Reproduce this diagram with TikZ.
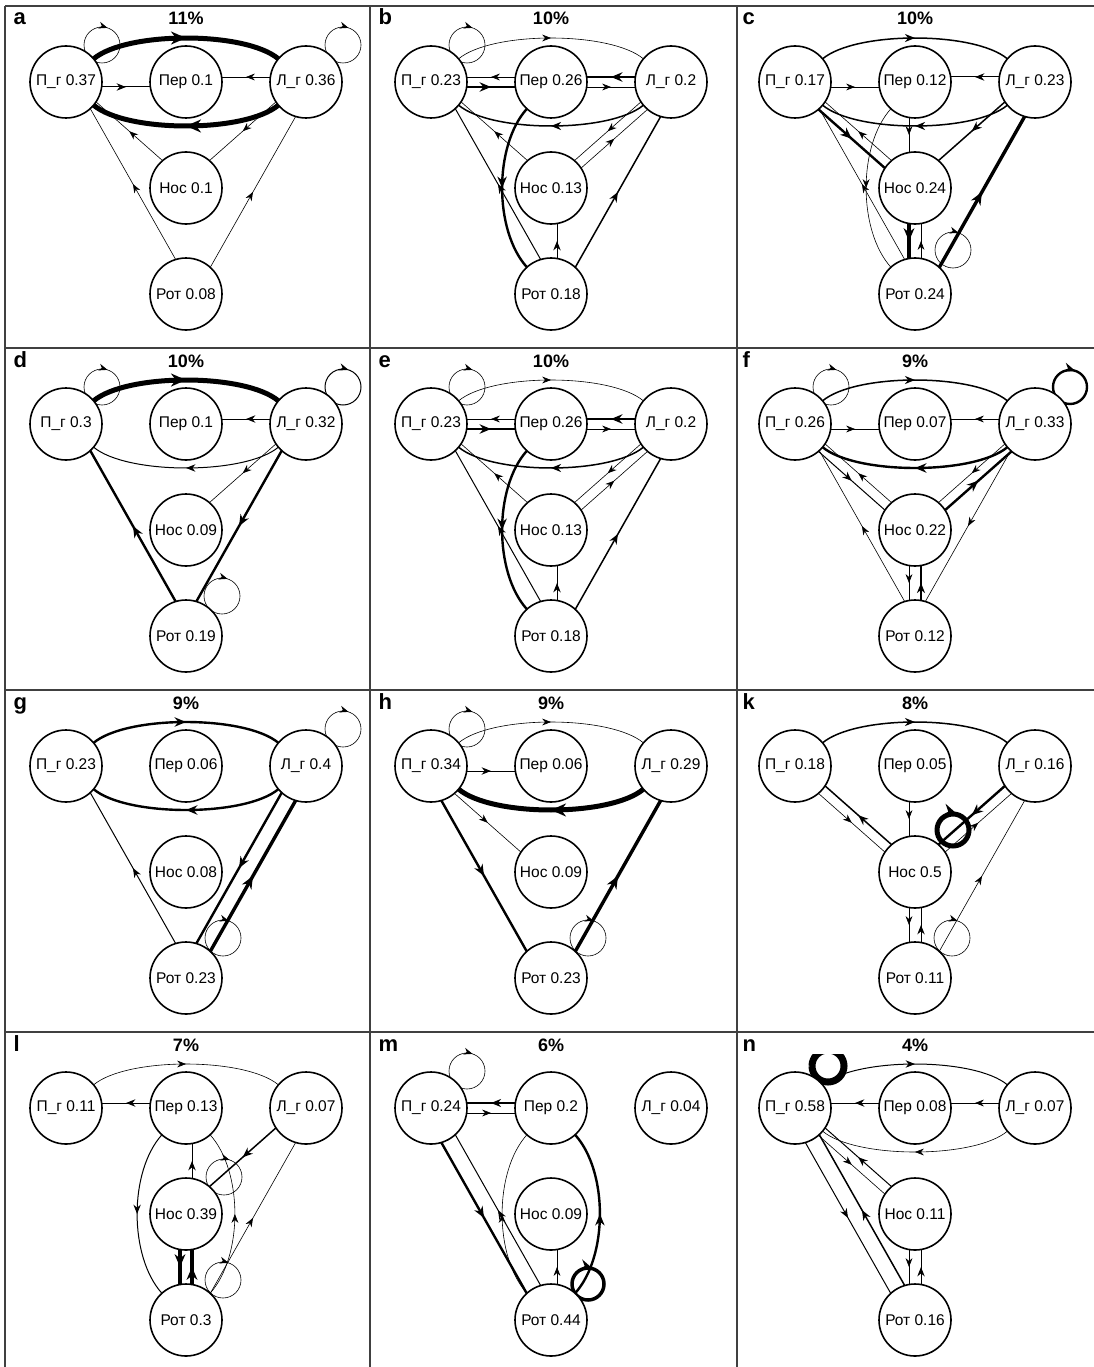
\documentclass[tikz,border=0pt]{standalone}
\usepackage{fontspec}
\setmainfont{Liberation Sans}
\usetikzlibrary{positioning,arrows.meta,calc,decorations.markings,backgrounds}

\tikzset{
  st/.style={circle, draw, line width=1.6pt, fill=white, minimum size=72pt,
             inner sep=0pt, outer sep=0pt, font=\fontsize{15.5}{18}\selectfont},
  pct/.style={font=\bfseries\fontsize{18}{21}\selectfont, anchor=base},
  tag/.style={font=\bfseries\fontsize{22}{25}\selectfont, anchor=base west},
  frameln/.style={draw=black!75, line width=1.2pt},
  midarr/.style={postaction={decorate}, decoration={markings,
      mark=at position 0.5 with {\arrow{Stealth[length=8pt 1.4, width=6pt 1.4]}}}},
  loopst/.style={line width=0.6pt, postaction={decorate}, decoration={markings,
      mark=at position 0.3 with {\arrow{Stealth[length=8pt 1.4, width=6pt 1.4]}}}},
  t0/.style={line width=0.6pt},
  t1/.style={line width=1pt},
  t2/.style={line width=1.5pt},
  t3/.style={line width=2.4pt},
  t4/.style={line width=3.4pt},
  t5/.style={line width=5pt},
  bow/.style={bend left=40, looseness=0.6},
  sweepR/.style={bend right=42, looseness=0.8},
  sweepL/.style={bend left=42, looseness=0.8},
}

% one panel: name, top-left corner, letter, share, then П_г Пер Л_г Нос Рот
\newcommand\panel[9]{%
  \node[st] (#1R) at ($#2+(181,-81)$) {Пер #6};
  \node[st, left=48pt of #1R] (#1P) {П\_г #5};
  \node[st, right=48pt of #1R] (#1L) {Л\_г #7};
  \node[st, below=34pt of #1R] (#1N) {Нос #8};
  \node[st, below=34pt of #1N] (#1M) {Рот #9};
  \node[pct] (#1T) at ($#2+(181,-24)$) {#4\%};
  \node[tag] (#1X) at ($#2+(5,-24)$) {#3};
}
% directed edge, shifted to the right of its direction
\newcommand\lane[4][]{\draw[midarr,#1] ($(#2)!#4!-90:(#3)$) -- ($(#3)!#4!90:(#2)$);}
% self transition: node, centre offset, radius
\newcommand\selfloop[4][]{\draw[loopst,#1] ($(#2)+(#3)$) ++(-#4,0)
  arc[start angle=180, end angle=-180, radius=#4];}

\begin{document}
\begin{tikzpicture}[x=1pt, y=1pt]
  \useasboundingbox (0,0) rectangle (1094,-1367);

  % --- table lines ---
  \foreach \yy in {-6,-348,-690,-1032}
    \draw[frameln] (5,\yy) -- (1094,\yy);
  \foreach \xx in {5,370,737}
    \draw[frameln] (\xx,-6) -- (\xx,-1367);

  % --- a ---
  \panel{a}{(5,-1)}{a}{11}{0.37}{0.1}{0.36}{0.1}{0.08}
  \begin{scope}[on background layer]
    \draw[t5,bow,midarr] (aP) to (aL);
    \draw[t5,bow,midarr] (aL) to (aP);
    \lane[t1]{aP}{aR}{5pt}
    \lane[t0]{aL}{aR}{5pt}
    \lane[t0]{aN}{aP}{5pt}
    \lane[t0]{aM}{aP}{8pt}
    \lane[t0]{aL}{aN}{5pt}
    \lane[t0]{aM}{aL}{8pt}
    \selfloop{aP}{36,37}{18}
    \selfloop{aL}{37,37}{18}
  \end{scope}

  % --- b and e (same chain) ---
  \panel{b}{(370,-1)}{b}{10}{0.23}{0.26}{0.2}{0.13}{0.18}
  \panel{e}{(370,-343)}{e}{10}{0.23}{0.26}{0.2}{0.13}{0.18}
  \begin{scope}[on background layer]
    \foreach \p in {b,e} {
      \selfloop{\p P}{36,37}{18}
      \draw[t0,bow,midarr] (\p P) to (\p L);
      \lane[t0]{\p R}{\p P}{5pt}
      \lane[t3]{\p P}{\p R}{5pt}
      \lane[t3]{\p L}{\p R}{5pt}
      \lane[t0]{\p R}{\p L}{5pt}
      \draw[t2,bow,midarr] (\p L) to (\p P);
      \draw[t3,sweepR,midarr] (\p R) to (\p M);
      \lane[t1]{\p M}{\p P}{8pt}
      \lane[t0]{\p N}{\p P}{5pt}
      \lane[t0]{\p L}{\p N}{5pt}
      \lane[t0]{\p N}{\p L}{5pt}
      \lane[t1]{\p M}{\p N}{6pt}
      \lane[t2]{\p M}{\p L}{8pt}
    }
  \end{scope}

  % --- c ---
  \panel{c}{(734,-1)}{c}{10}{0.17}{0.12}{0.23}{0.24}{0.24}
  \begin{scope}[on background layer]
    \draw[t2,bow,midarr] (cP) to (cL);
    \lane[t0]{cP}{cR}{5pt}
    \lane[t1]{cL}{cR}{5pt}
    \draw[t2,bow,midarr] (cL) to (cP);
    \lane[t0]{cR}{cN}{6pt}
    \lane[t2]{cL}{cN}{5pt}
    \lane[t3]{cP}{cN}{5pt}
    \lane[t0]{cN}{cP}{5pt}
    \lane[t0]{cM}{cP}{8pt}
    \draw[t0,sweepR,midarr] (cR) to (cM);
    \lane[t4]{cN}{cM}{6pt}
    \lane[t0]{cM}{cN}{6pt}
    \lane[t4]{cM}{cL}{8pt}
    \selfloop{cM}{38,44}{18}
  \end{scope}

  % --- d ---
  \panel{d}{(5,-343)}{d}{10}{0.3}{0.1}{0.32}{0.09}{0.19}
  \begin{scope}[on background layer]
    \selfloop{dP}{36,37}{18}
    \selfloop[t1]{dL}{37,37}{18}
    \draw[t5,bow,midarr] (dP) to (dL);
    \lane[t1]{dL}{dR}{5pt}
    \draw[t1,bow,midarr] (dL) to (dP);
    \lane[t0]{dL}{dN}{5pt}
    \lane[t3]{dM}{dP}{8pt}
    \lane[t3]{dL}{dM}{8pt}
    \selfloop{dM}{36,40}{18}
  \end{scope}

  % --- f ---
  \panel{f}{(734,-343)}{f}{9}{0.26}{0.07}{0.33}{0.22}{0.12}
  \begin{scope}[on background layer]
    \selfloop{fP}{36,37}{18}
    \selfloop[t3]{fL}{35,37}{17}
    \draw[t2,bow,midarr] (fP) to (fL);
    \lane[t0]{fP}{fR}{5pt}
    \lane[t0]{fL}{fR}{5pt}
    \draw[t3,bow,midarr] (fL) to (fP);
    \lane[t1]{fP}{fN}{5pt}
    \lane[t0]{fN}{fP}{5pt}
    \lane[t0]{fL}{fN}{5pt}
    \lane[t3]{fN}{fL}{5pt}
    \lane[t0]{fL}{fM}{8pt}
    \lane[t0]{fM}{fP}{8pt}
    \lane[t0]{fN}{fM}{6pt}
    \lane[t2]{fM}{fN}{6pt}
  \end{scope}

  % --- g ---
  \panel{g}{(5,-685)}{g}{9}{0.23}{0.06}{0.4}{0.08}{0.23}
  \begin{scope}[on background layer]
    \selfloop{gL}{37,37}{18}
    \selfloop{gM}{37,40}{18}
    \draw[t3,bow,midarr] (gP) to (gL);
    \draw[t3,bow,midarr] (gL) to (gP);
    \lane[t1]{gM}{gP}{8pt}
    \lane[t3]{gL}{gM}{8pt}
    \lane[t4]{gM}{gL}{8pt}
  \end{scope}

  % --- h ---
  \panel{h}{(370,-685)}{h}{9}{0.34}{0.06}{0.29}{0.09}{0.23}
  \begin{scope}[on background layer]
    \selfloop{hP}{36,37}{18}
    \selfloop{hM}{37,40}{18}
    \draw[t0,bow,midarr] (hP) to (hL);
    \lane[t1]{hP}{hR}{5pt}
    \draw[t5,bow,midarr] (hL) to (hP);
    \lane[t0]{hP}{hN}{5pt}
    \lane[t3]{hP}{hM}{8pt}
    \lane[t4]{hM}{hL}{8pt}
  \end{scope}

  % --- k ---
  \panel{k}{(734,-685)}{k}{8}{0.18}{0.05}{0.16}{0.5}{0.11}
  \begin{scope}[on background layer]
    \draw[t2,bow,midarr] (kP) to (kL);
    \lane[t0]{kR}{kN}{6pt}
    \lane[t0]{kP}{kN}{5pt}
    \lane[t2]{kN}{kP}{5pt}
    \lane[t3]{kL}{kN}{5pt}
    \lane[t0]{kN}{kL}{5pt}
    \lane[t0]{kM}{kL}{8pt}
    \lane[t0]{kN}{kM}{6pt}
    \lane[t1]{kM}{kN}{6pt}
    \selfloop{kM}{37,40}{18}
    \selfloop[line width=5pt]{kN}{38,42}{16}
  \end{scope}

  % --- l ---
  \panel{l}{(5,-1027)}{l}{7}{0.11}{0.13}{0.07}{0.39}{0.3}
  \begin{scope}[on background layer]
    \draw[t0,bow,midarr] (lP) to (lL);
    \lane[t1]{lR}{lP}{5pt}
    \draw[t1,sweepR,midarr] (lR) to (lM);
    \draw[t0,sweepR,midarr] (lM) to (lR);
    \lane[t1]{lN}{lR}{6pt}
    \lane[t2]{lL}{lN}{5pt}
    \lane[t0]{lM}{lL}{8pt}
    \lane[t4]{lN}{lM}{6pt}
    \lane[t4]{lM}{lN}{6pt}
    \selfloop{lN}{38,37}{18}
    \selfloop{lM}{37,40}{18}
  \end{scope}

  % --- m ---
  \panel{m}{(370,-1027)}{m}{6}{0.24}{0.2}{0.04}{0.09}{0.44}
  \begin{scope}[on background layer]
    \selfloop{mP}{36,37}{18}
    \lane[t2]{mR}{mP}{5pt}
    \lane[t0]{mP}{mR}{5pt}
    \lane[t3]{mP}{mM}{8pt}
    \lane[t1]{mM}{mP}{8pt}
    \draw[t0,sweepL,midarr] (mM) to (mR);
    \draw[t3,sweepR,midarr] (mM) to (mR);
    \lane[t0]{mM}{mN}{6pt}
    \selfloop[line width=3.5pt]{mM}{37,36}{16}
  \end{scope}

  % --- n ---
  \panel{n}{(734,-1027)}{n}{4}{0.58}{0.08}{0.07}{0.11}{0.16}
  \begin{scope}[on background layer]
    \draw[t1,bow,midarr] (nP) to (nL);
    \lane[t1]{nR}{nP}{5pt}
    \lane[t0]{nL}{nR}{5pt}
    \draw[t0,bow,midarr] (nL) to (nP);
    \lane[t0]{nP}{nN}{5pt}
    \lane[t1]{nN}{nP}{5pt}
    \lane[t1]{nP}{nM}{8pt}
    \lane[t2]{nM}{nP}{8pt}
    \lane[t0]{nN}{nM}{6pt}
    \lane[t1]{nM}{nN}{6pt}
    \begin{scope}
      \clip (734,-1054) rectangle (1094,-1367);
      \selfloop[line width=7pt]{nP}{33,42}{16}
    \end{scope}
  \end{scope}
\end{tikzpicture}
\end{document}
